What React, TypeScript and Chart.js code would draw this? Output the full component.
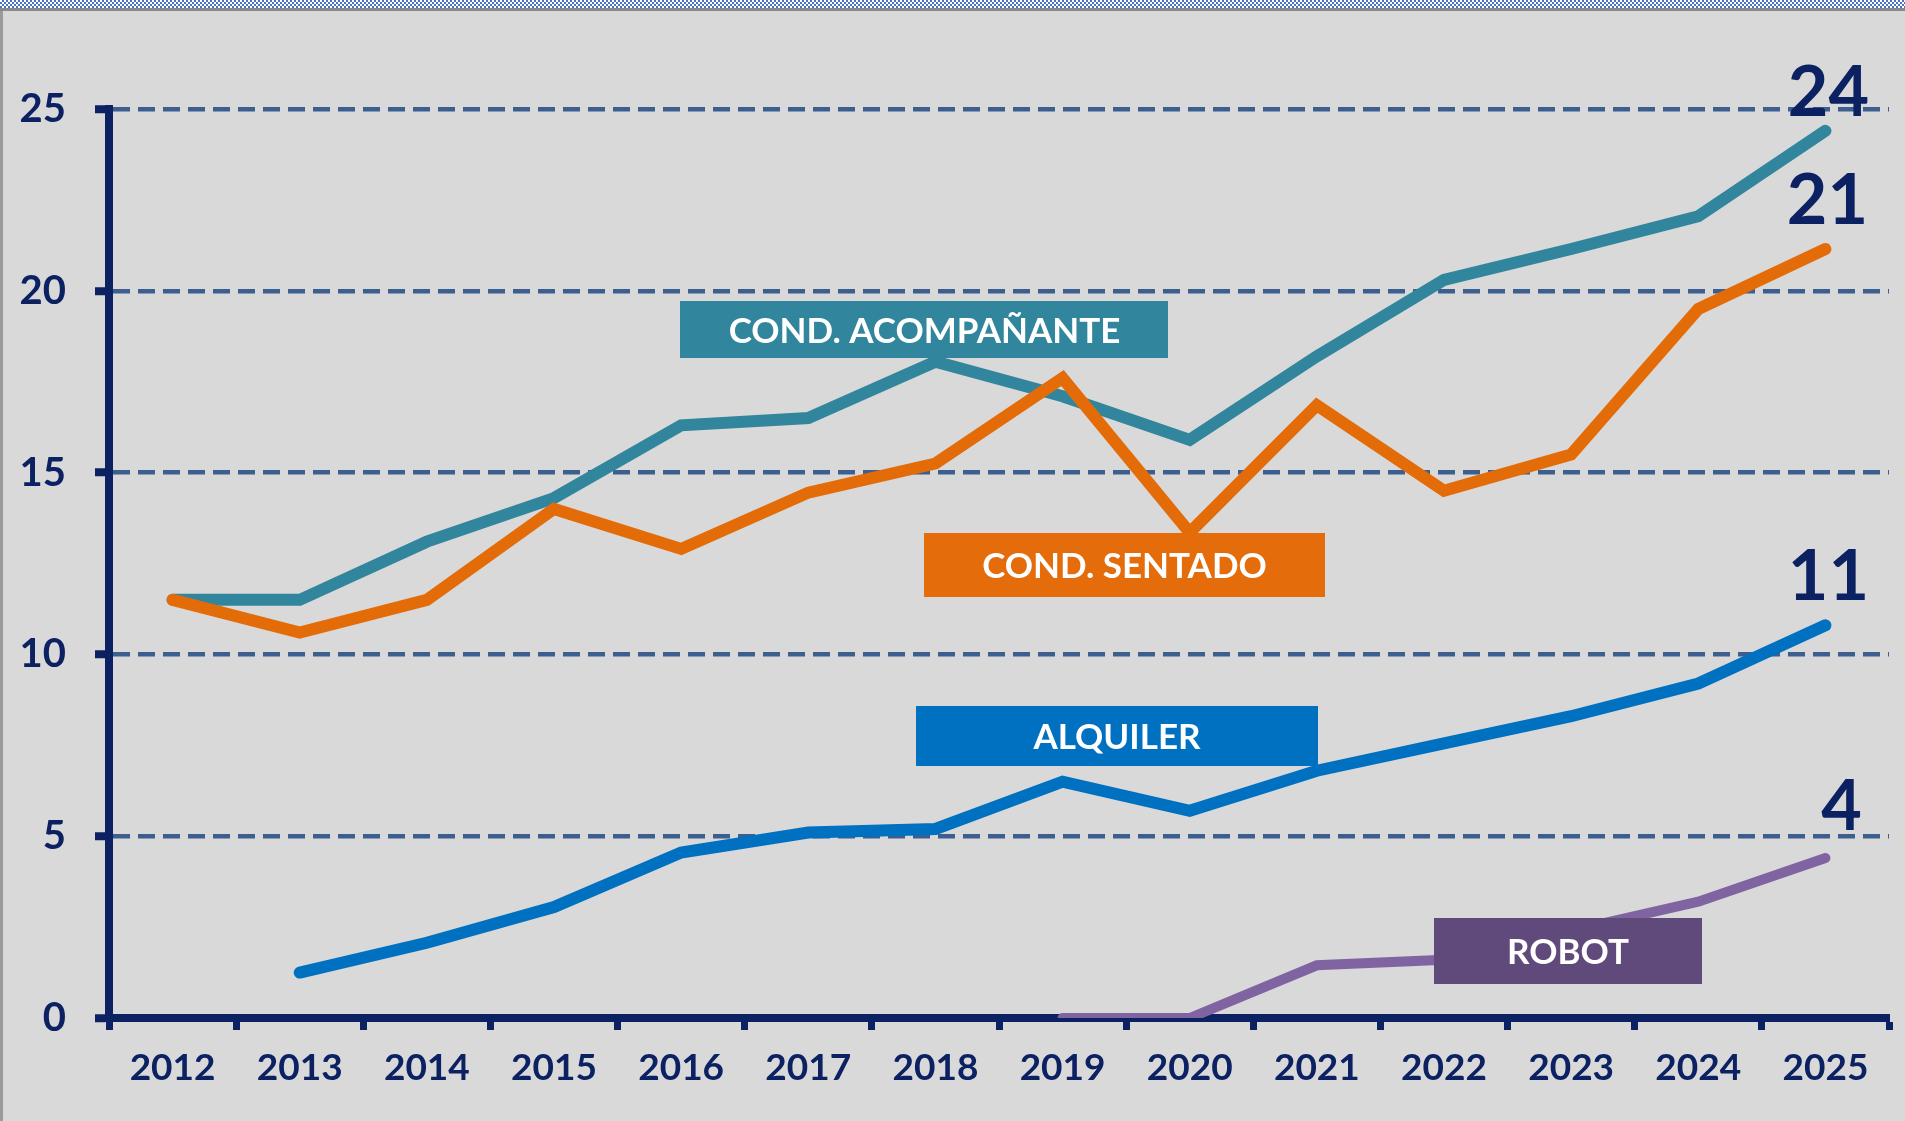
import React, { useEffect, useRef } from "react";
import { Chart, registerables } from "chart.js";

Chart.register(...registerables);

// ---------- data ----------
const years = ["2012", "2013", "2014", "2015", "2016", "2017", "2018", "2019", "2020", "2021", "2022", "2023", "2024", "2025"];
const condAcompanante = [11.5, 11.5, 13.1, 14.3, 16.3, 16.5, 18.05, 17.1, 15.9, 18.2, 20.3, 21.15, 22.05, 24.4];
const condSentado = [11.5, 10.6, 11.5, 14.0, 12.9, 14.45, 15.25, 17.6, 13.35, 16.85, 14.5, 15.5, 19.5, 21.15];
const alquiler = [null, 1.25, 2.07, 3.05, 4.55, 5.1, 5.2, 6.5, 5.7, 6.8, 7.55, 8.3, 9.2, 10.8];
const robot = [null, null, null, null, null, null, null, 0, 0, 1.45, 1.6, 2.4, 3.2, 4.4];
const seriesNames = ["COND. ACOMPAÑANTE", "COND. SENTADO", "ALQUILER", "ROBOT"];
const yMin = 0;
const yMax = 25;
const yStep = 5;

// ---------- styles ----------
const NAVY = "#0b2161";
const FONT = 'Lato, "Open Sans", "DejaVu Sans", sans-serif';
const lineColors = ["#31859c", "#e36c09", "#0070c0", "#8064a2"];
const lineWidths = [12, 12, 12, 10];
const boxColors = ["#31859c", "#e46c0a", "#0070c0", "#604a7b"];
// box centres in scale units (category index, value) and pixel sizes
const boxStyles = [
  { cx: 5.914, cy: 18.94, w: 488, h: 57 },
  { cx: 7.487, cy: 12.46, w: 401, h: 64 },
  { cx: 7.428, cy: 7.75, w: 402, h: 60 },
  { cx: 10.975, cy: 1.84, w: 268, h: 66 },
];
// end-value label offsets (px)
const endLabelStyles = [
  { dx: 3, dy: 15 },
  { dx: 2, dy: 25 },
  { dx: 3, dy: 25 },
  { dx: 16, dy: 28 },
];

const overlayPlugin = {
  id: "overlayBoxes",
  afterDatasetsDraw(chart: any) {
    const ctx = chart.ctx;
    const xs = chart.scales.x;
    const ys = chart.scales.y;
    ctx.save();
    boxStyles.forEach((b, i) => {
      const cx = xs.getPixelForValue(b.cx);
      const cy = ys.getPixelForValue(b.cy);
      ctx.fillStyle = boxColors[i];
      ctx.fillRect(Math.round(cx - b.w / 2), Math.round(cy - b.h / 2), b.w, b.h);
      ctx.fillStyle = "#ffffff";
      ctx.font = `bold 35px ${FONT}`;
      ctx.textAlign = "center";
      ctx.textBaseline = "middle";
      ctx.fillText(seriesNames[i], cx, cy + 2);
    });
    // end-value labels
    chart.data.datasets.forEach((ds: any, i: number) => {
      const meta = chart.getDatasetMeta(i);
      const last = ds.data.length - 1;
      const pt = meta.data[last];
      const v = ds.data[last];
      if (!pt || v == null) return;
      const st = endLabelStyles[i];
      ctx.fillStyle = NAVY;
      ctx.font = `bold 70px ${FONT}`;
      ctx.textAlign = "center";
      ctx.textBaseline = "alphabetic";
      ctx.fillText(String(Math.round(v)), pt.x + st.dx, pt.y - st.dy);
    });
    ctx.restore();
  },
};

export default function App() {
  const canvasRef = useRef<HTMLCanvasElement | null>(null);

  useEffect(() => {
    document.body.style.margin = "0";
    const canvas = canvasRef.current;
    if (!canvas) return;
    const series = [condAcompanante, condSentado, alquiler, robot];
    const orders = [1, 0, 2, 3];
    const chart = new Chart(canvas, {
      type: "line",
      data: {
        labels: years,
        datasets: series.map((d, i) => ({
          label: seriesNames[i],
          data: d,
          borderColor: lineColors[i],
          backgroundColor: lineColors[i],
          borderWidth: lineWidths[i],
          borderCapStyle: "round",
          borderJoinStyle: "miter",
          pointRadius: 0,
          tension: 0,
          fill: false,
          order: orders[i],
        })) as any,
      },
      options: {
        animation: false,
        responsive: false,
        devicePixelRatio: 1,
        layout: { padding: { top: 109, right: 16, left: 0, bottom: 0 } },
        plugins: { legend: { display: false }, tooltip: { enabled: false } },
        scales: {
          x: {
            type: "category",
            offset: true,
            afterFit(scale: any) {
              scale.height = 103;
            },
            grid: {
              offset: true,
              drawOnChartArea: false,
              drawTicks: true,
              tickLength: 12,
              tickWidth: 7,
              tickColor: NAVY,
              color: NAVY,
            },
            border: { display: true, color: NAVY, width: 8 },
            ticks: {
              color: NAVY,
              font: { family: FONT, size: 37, weight: "bold" },
              padding: 16,
              maxRotation: 0,
              autoSkip: false,
            },
          },
          y: {
            min: yMin,
            max: yMax,
            afterFit(scale: any) {
              scale.width = 109;
            },
            grid: {
              color: "#3d5f90",
              lineWidth: 4.5,
              drawTicks: true,
              tickLength: 14,
              tickWidth: 8,
              tickColor: NAVY,
            },
            border: { display: true, color: NAVY, width: 8, dash: [17, 8] },
            ticks: {
              stepSize: yStep,
              color: NAVY,
              font: { family: FONT, size: 40, weight: "bold" },
              padding: 29,
            },
          },
        },
      } as any,
      plugins: [overlayPlugin],
    });
    return () => chart.destroy();
  }, []);

  return (
    <div style={{ position: "relative", width: 1905, height: 1121, background: "#d9d9d9", overflow: "hidden" }}>
      <canvas ref={canvasRef} width={1905} height={1121} style={{ display: "block", position: "absolute", left: 0, top: 0 }} />
      <div
        style={{
          position: "absolute",
          left: 0,
          top: 0,
          width: "100%",
          height: 8,
          background: "repeating-conic-gradient(#4a74c0 0% 25%, #ffffff 0% 50%) 0 0 / 4px 4px",
        }}
      />
      <div style={{ position: "absolute", left: 0, top: 8, width: "100%", height: 3, background: "#8a8a8a" }} />
      <div style={{ position: "absolute", left: 0, top: 11, width: 3, height: 1110, background: "#9a9a9a" }} />
    </div>
  );
}
